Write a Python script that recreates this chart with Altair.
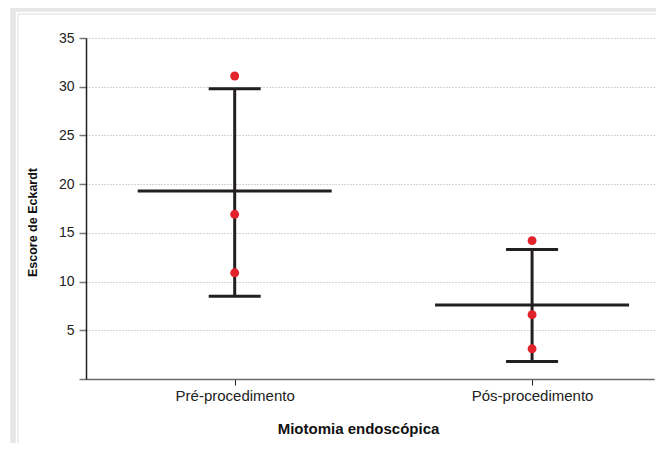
import altair as alt
import pandas as pd

# ---- data ----
grupos = ["Pré-procedimento", "Pós-procedimento"]
medias = [19.3, 7.6]
limite_inf = [8.5, 1.8]
limite_sup = [29.8, 13.3]
pontos_pre = [31.1, 16.9, 10.9]
pontos_pos = [14.2, 6.6, 3.1]
y_ticks = [0, 5, 10, 15, 20, 25, 30, 35]

resumo = pd.DataFrame({
    "idx": [0, 1],
    "grupo": grupos,
    "media": medias,
    "inf": limite_inf,
    "sup": limite_sup,
})
pontos = pd.DataFrame({
    "idx": [0] * len(pontos_pre) + [1] * len(pontos_pos),
    "escore": pontos_pre + pontos_pos,
})

FONT = "Liberation Sans"
INK = "#231f20"
RED = "#e3232c"

label_expr = "[" + ",".join("'" + g + "'" for g in grupos) + "][datum.value]"

x_scale = alt.Scale(domain=[-0.5, 1.41], nice=False, zero=False)
y_scale = alt.Scale(domain=[0, 35], nice=False)

x_enc = alt.X(
    "idx:Q", scale=x_scale,
    axis=alt.Axis(
        values=[0, 1], labelExpr=label_expr, title="Miotomia endoscópica",
        grid=False, domainColor="#6b6b6b", domainWidth=1.5,
        tickColor=INK, tickSize=6, tickWidth=1,
        labelFont=FONT, labelFontSize=15, labelColor="#222222", labelPadding=3,
        titleFont=FONT, titleFontSize=15, titleFontWeight="bold", titleColor="#111111",
        titlePadding=18, titleX=272, titleAlign="center",
    ),
)
y_axis = alt.Axis(
    values=y_ticks, labelExpr="datum.value == 0 ? '' : datum.label",
    title="Escore de Eckardt",
    grid=True, gridColor="#a8a8a8", gridDash=[1, 2], gridWidth=1,
    domainColor=INK, domainWidth=1.5,
    tickColor="#777777", tickSize=7, tickWidth=1.5,
    labelFont=FONT, labelFontSize=14, labelColor="#222222", labelPadding=5,
    titleFont=FONT, titleFontSize=12.5, titleFontWeight="bold", titleColor="#111111",
    titleX=-54, titleY=184, titleAngle=270, titleAlign="center", titleBaseline="middle",
)

base = alt.Chart(resumo)

frame_outer = base.mark_rect(fill=None, stroke="#e6e6e6", strokeWidth=5).encode(
    x=alt.value(-73), x2=alt.value(700), y=alt.value(-29), y2=alt.value(500)
)
frame_inner = base.mark_rect(fill=None, stroke="#e9e9e9", strokeWidth=1).encode(
    x=alt.value(-68), x2=alt.value(700), y=alt.value(-24), y2=alt.value(500)
)

barra = base.mark_rule(color=INK, strokeWidth=3, opacity=1).encode(
    x=x_enc,
    y=alt.Y("inf:Q", scale=y_scale, axis=y_axis),
    y2="sup:Q",
)
cap_sup = base.mark_tick(orient="horizontal", size=52, thickness=3, color=INK, opacity=1).encode(
    x="idx:Q", y="sup:Q"
)
cap_inf = base.mark_tick(orient="horizontal", size=52, thickness=3, color=INK, opacity=1).encode(
    x="idx:Q", y="inf:Q"
)
media = base.mark_tick(orient="horizontal", size=194, thickness=3, color=INK, opacity=1).encode(
    x="idx:Q", y="media:Q"
)
pts = alt.Chart(pontos).mark_circle(size=80, color=RED, opacity=1).encode(
    x="idx:Q", y="escore:Q"
)

chart = alt.layer(frame_outer, frame_inner, barra, cap_sup, cap_inf, media, pts).properties(
    width=568, height=341,
    autosize=alt.AutoSizeParams(type="none"),
    padding={"left": 78, "top": 30, "right": 2, "bottom": 64},
    background="white",
).configure_view(stroke=None)

chart.save("out.html", embed_options={"renderer": "svg", "actions": False})
